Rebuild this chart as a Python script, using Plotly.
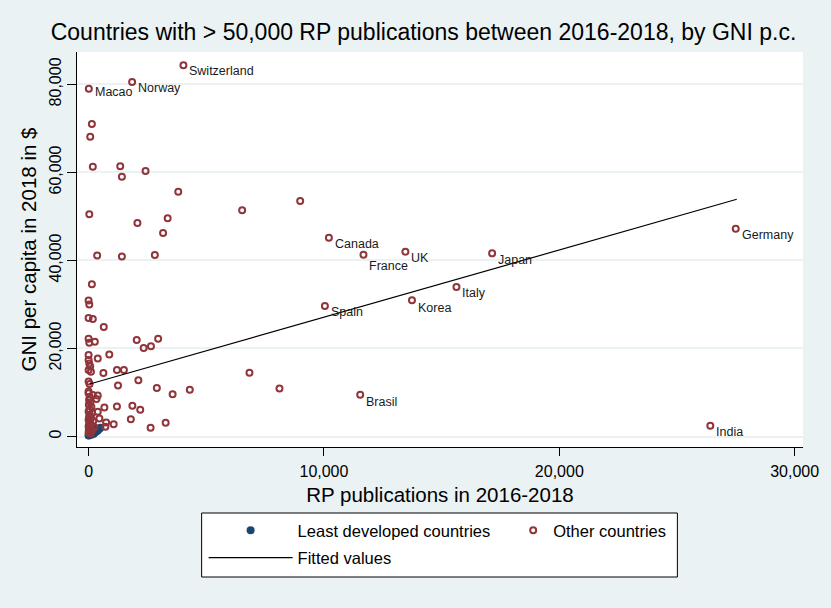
import plotly.graph_objects as go

FONT = "Liberation Sans, Arial, Helvetica, sans-serif"
BG = "#EAF2F3"
RED = "#90353B"
BLUE = "#1A476F"

# ---------------- data ----------------
ldc_x = [0, 30, 80, 150, 220, 300, 380, 450, 20, 60, 120, 200, 10, 270, 350, 500, 100, 40]
ldc_y = [300, 500, 700, 900, 600, 1000, 1300, 1700, 800, 1100, 400, 1500, 200, 1800, 1600, 2000, 1200, 1500]

other_x = [140, 70, 180, 1345, 1415, 2420, 3810, 30, 2075, 3360, 3165, 6525, 8990,
           2815, 365, 1415, 140, 0, 30, 0, 180, 645, 0, 30, 265, 2045, 2340, 2650, 2955,
           6835, 8110, 2900, 3570, 4300, 2635, 3275,
           0, 390, 880, 0, 30, 70, 0, 100, 630, 1205, 1500, 2115, 1250, 0, 40,
           0, 180, 390, 335, 670, 1205, 1860, 2195, 390, 460, 745, 1065, 1795, 715,
           0, 50, 20, 80, 10, 120, 40, 0, 150, 60, 20, 100, 0, 200, 50, 30, 120, 0,
           250, 80, 10, 160, 40, 0, 90]
other_y = [71000, 68100, 61300, 61400, 59000, 60300, 55600, 50500, 48500, 49600, 46200, 51400, 53500,
           41200, 41100, 40900, 34600, 30900, 30000, 26900, 26700, 24900, 22200, 21300, 21500, 21900, 20100, 20500, 22200,
           14500, 10900, 11000, 9600, 10600, 2000, 3100,
           18500, 17700, 18600, 17400, 16600, 15900, 15100, 14700, 14400, 15100, 15100, 12800, 11600, 12500, 11900,
           10200, 9400, 9300, 8500, 6600, 6800, 7000, 6100, 5600, 4100, 3200, 2800, 3900, 2200,
           9800, 9000, 8300, 7700, 7200, 6700, 6200, 5700, 5300, 4900, 4500, 4100, 3800, 3500, 3200, 2900, 2600, 2300,
           2100, 1900, 1600, 1400, 1200, 900, 700]

label_names = ["Switzerland", "Norway", "Macao", "Canada", "France", "UK", "Japan",
               "Italy", "Korea", "Spain", "Brasil", "Germany", "India"]
label_x = [4030, 1850, 10, 10210, 11680, 13460, 17145, 15630, 13740, 10040, 11540, 27495, 26415]
label_y = [84300, 80500, 79000, 45150, 41300, 41980, 41600, 33960, 30940, 29640, 9500, 47200, 2450]

fit_x = [50, 27540]
fit_y = [11920, 53880]

x_tick_vals = [0, 10000, 20000, 30000]
x_tick_text = ["0", "10,000", "20,000", "30,000"]
y_tick_vals = [0, 20000, 40000, 60000, 80000]
y_tick_text = ["0", "20,000", "40,000", "60,000", "80,000"]

# label vertical offsets (pixels, styling only)
label_yshift = {"France": -11, "Korea": -8, "Japan": -7, "Brasil": -7, "Macao": -3}

# ---------------- layout geometry (pixels) ----------------
W, H = 831, 608
PL, PR, PT, PB = 77, 811, 52, 447
PW, PH = PR - PL, PB - PT


def px2paper_x(px):
    return (px - PL) / PW


def px2paper_y(py):
    return (PB - py) / PH


# ---------------- figure ----------------
fig = go.Figure()

fig.add_trace(go.Scatter(
    x=ldc_x, y=ldc_y, mode="markers", name="Least developed countries",
    marker=dict(symbol="circle", size=8, color=BLUE, line=dict(width=0)),
    legend="legend", legendgroup="ldc",
))

fig.add_trace(go.Scatter(
    x=other_x + label_x, y=other_y + label_y, mode="markers", name="Other countries",
    marker=dict(symbol="circle-open", size=6, color=RED, line=dict(width=2, color=RED)),
    legend="legend2", legendgroup="other",
))

fig.add_trace(go.Scatter(
    x=fit_x, y=fit_y, mode="lines", name="Fitted values",
    line=dict(color="black", width=1.2),
    legend="legend", legendgroup="fit",
))

for n, x, y in zip(label_names, label_x, label_y):
    fig.add_annotation(
        x=x, y=y, xref="x", yref="y", text=n, showarrow=False,
        xanchor="left", yanchor="middle", xshift=4, yshift=label_yshift.get(n, -6),
        font=dict(family=FONT, size=12.5, color="#1a1a1a"),
    )

# legend frame
fig.add_shape(
    type="rect", xref="paper", yref="paper",
    x0=px2paper_x(203), x1=px2paper_x(684), y0=px2paper_y(577), y1=px2paper_y(513),
    line=dict(color="black", width=1), fillcolor="white", layer="above",
)

legend_font = dict(family=FONT, size=16.5, color="black")

fig.update_layout(
    width=W, height=H,
    margin=dict(l=PL, r=W - PR, t=PT, b=H - PB),
    paper_bgcolor=BG, plot_bgcolor="white",
    font=dict(family=FONT, color="black"),
    title=dict(
        text="Countries with > 50,000 RP publications between 2016-2018, by GNI p.c.",
        x=423.5 / W, xref="container", xanchor="center",
        y=1 - 32 / H, yref="container", yanchor="middle",
        font=dict(family=FONT, size=23, color="black"),
    ),
    showlegend=True,
    legend=dict(
        orientation="v", x=px2paper_x(205), xanchor="left", xref="paper",
        y=px2paper_y(513), yanchor="top", yref="paper",
        bgcolor="rgba(0,0,0,0)", borderwidth=0,
        font=legend_font, itemwidth=84, traceorder="grouped", tracegroupgap=3,
    ),
    legend2=dict(
        orientation="v", x=px2paper_x(518), xanchor="left", xref="paper",
        y=px2paper_y(513), yanchor="top", yref="paper",
        bgcolor="rgba(0,0,0,0)", borderwidth=0,
        font=legend_font, itemwidth=30,
    ),
)

fig.update_xaxes(
    range=[-492, 30353], showgrid=False, zeroline=False,
    showline=True, linecolor="black", linewidth=1,
    ticks="outside", ticklen=8, tickcolor="black", tickwidth=1,
    tickvals=x_tick_vals, ticktext=x_tick_text, ticklabelstandoff=2,
    tickfont=dict(family=FONT, size=16, color="black"),
    title=dict(text="RP publications in 2016-2018", font=dict(family=FONT, size=20.5, color="black"), standoff=8),
)

fig.update_yaxes(
    range=[-2385, 87337], showgrid=True, gridcolor=BG, gridwidth=1.5, zeroline=False,
    showline=True, linecolor="black", linewidth=1,
    ticks="outside", ticklen=9, tickcolor="black", tickwidth=1,
    tickvals=y_tick_vals, ticktext=y_tick_text, tickangle=-90,
    tickfont=dict(family=FONT, size=16, color="black"),
    title=dict(text="GNI per capita in 2018 in $", font=dict(family=FONT, size=20.5, color="black"), standoff=4),
)

fig.write_html(
    "out.html",
    config={"displayModeBar": False},
    post_script="document.body.style.margin='0';document.body.style.overflow='hidden';",
)
